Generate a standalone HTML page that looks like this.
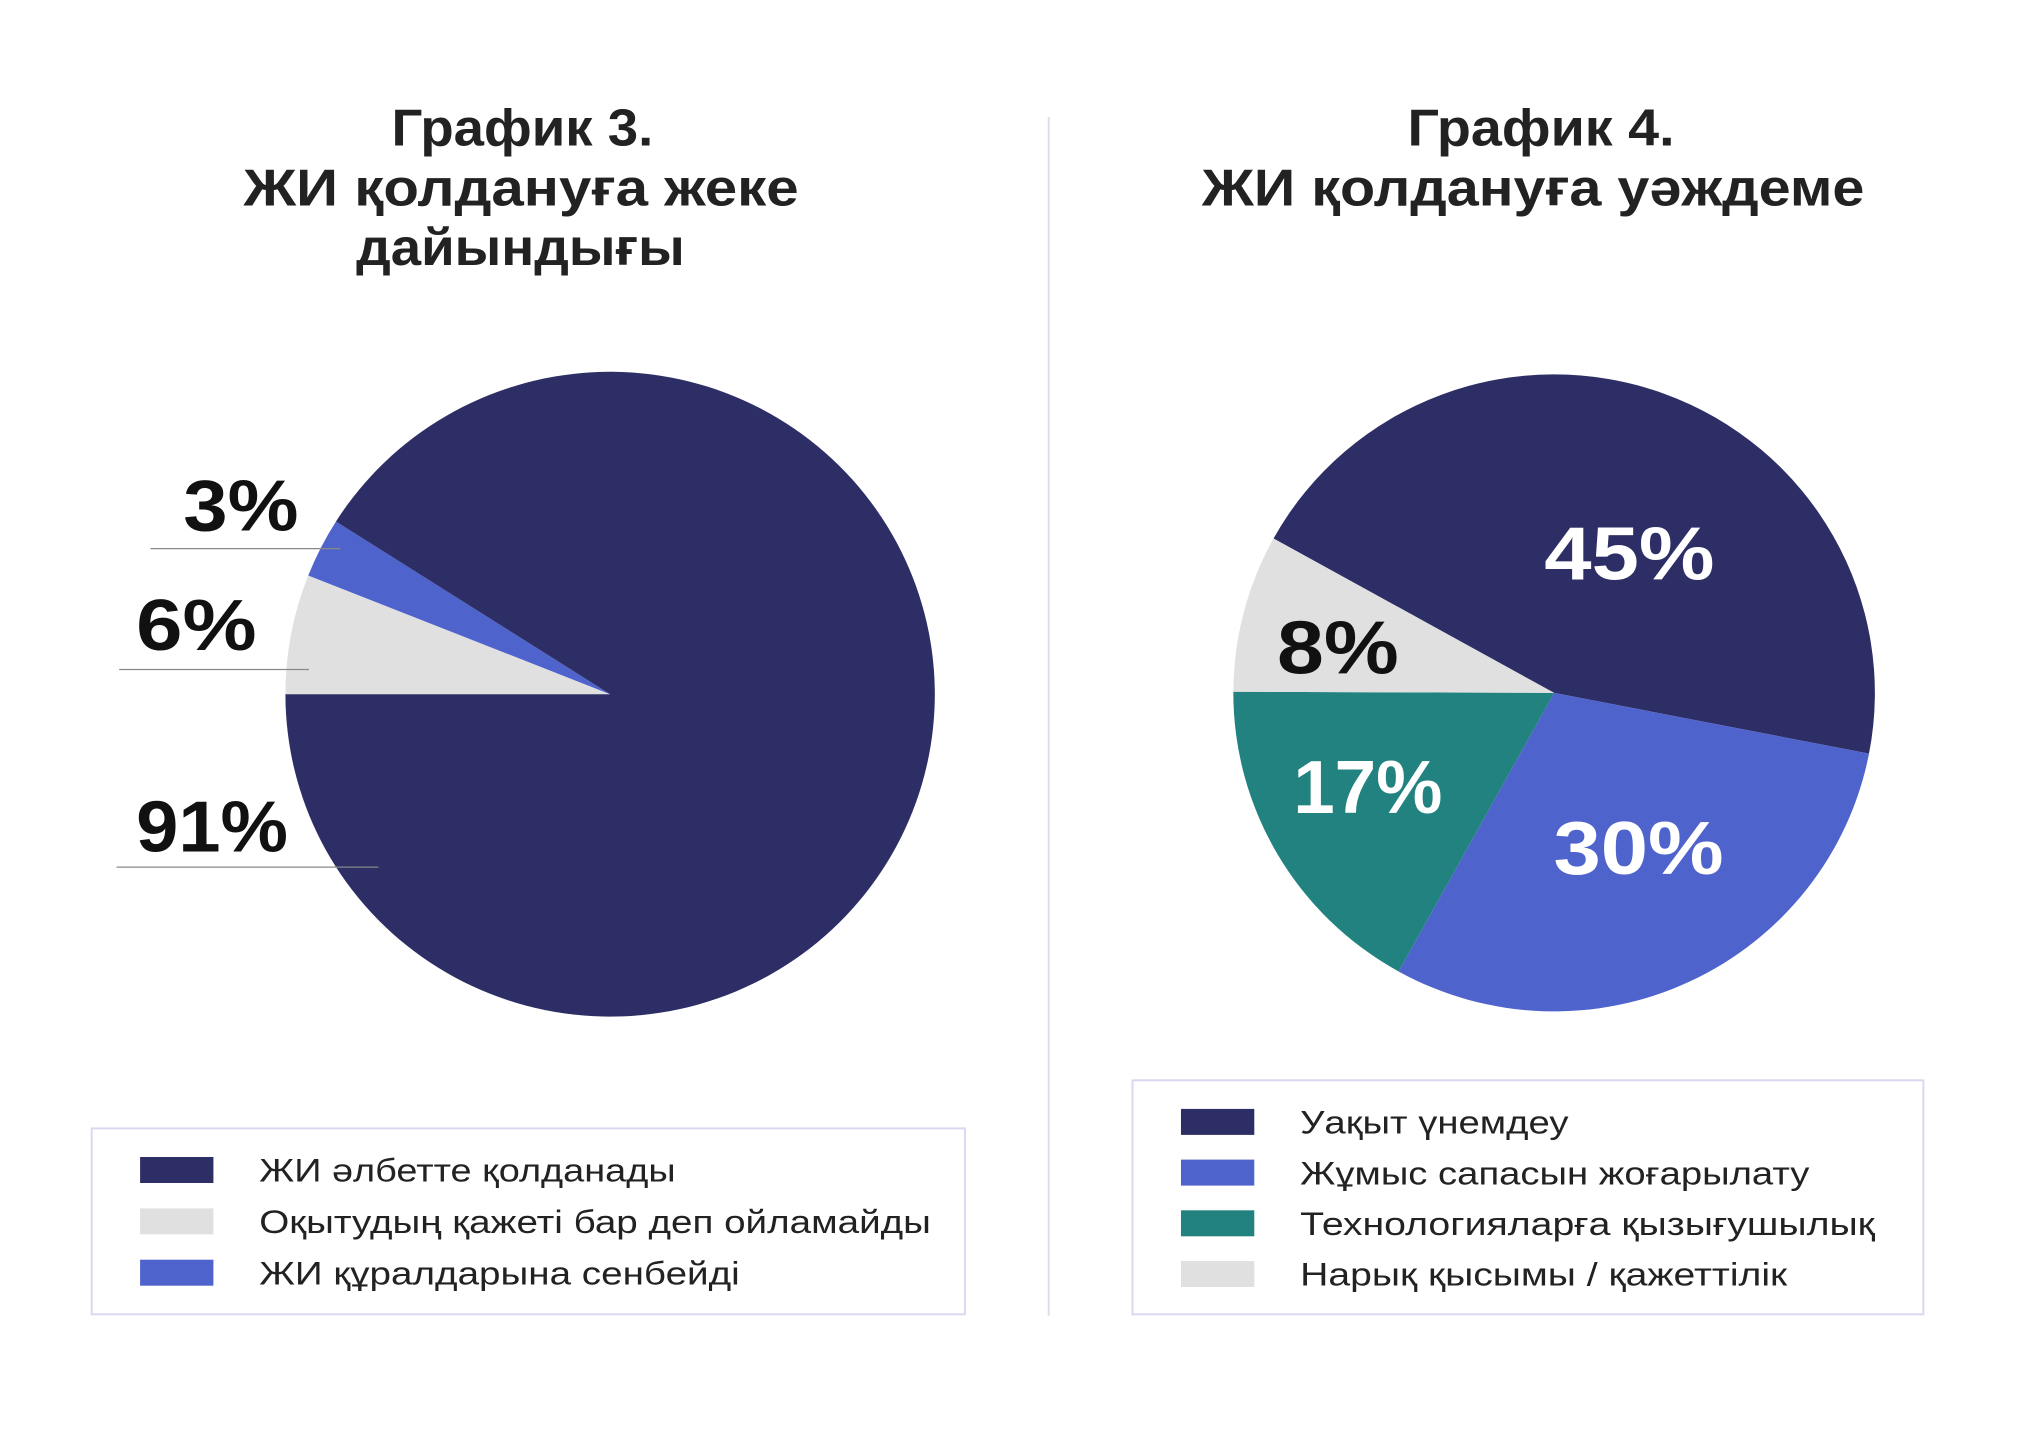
<!DOCTYPE html>
<html><head><meta charset="utf-8"><style>
html,body{margin:0;padding:0;background:#fff;}
svg{display:block;}
text{font-family:"Liberation Sans","DejaVu Sans",sans-serif;}
</style></head><body>
<svg id="root" width="2032" height="1430" viewBox="0 0 1552 1100" preserveAspectRatio="none" xmlns="http://www.w3.org/2000/svg">
<rect width="1552" height="1100" fill="#fff"/>
<g font-weight="bold" font-size="40" fill="#222">
<text x="299" y="112" textLength="200" lengthAdjust="spacingAndGlyphs">График 3.</text>
<text x="186" y="158" textLength="424" lengthAdjust="spacingAndGlyphs">ЖИ қолдануға жеке</text>
<text x="272" y="204" textLength="251" lengthAdjust="spacingAndGlyphs">дайындығы</text>
</g>
<g font-weight="bold" font-size="40" fill="#222">
<text x="1075" y="112" textLength="204" lengthAdjust="spacingAndGlyphs">График 4.</text>
<text x="918" y="158" textLength="506" lengthAdjust="spacingAndGlyphs">ЖИ қолдануға уәждеме</text>
</g>
<line x1="801" y1="90" x2="801" y2="1012" stroke="#dcdcee" stroke-width="1.5"/>
<g id="pie3"></g>
<g id="pie4"></g>
<rect x="70" y="868" width="667" height="143" fill="none" stroke="#d8d8f0" stroke-width="1.5"/>
<rect x="865" y="831" width="604" height="180" fill="none" stroke="#d8d8f0" stroke-width="1.5"/>
<g id="leg3"></g>
<g id="leg4"></g>
</svg>
<script>
const cats3 = ["ЖИ әлбетте қолданады", "Оқытудың қажеті бар деп ойламайды", "ЖИ құралдарына сенбейді"];
const vals3 = [91, 6, 3];
const labels3 = ["91%", "6%", "3%"];
const cats4 = ["Уақыт үнемдеу", "Жұмыс сапасын жоғарылату", "Технологияларға қызығушылық", "Нарық қысымы / қажеттілік"];
const vals4 = [45, 30, 17, 8];
const labels4 = ["45%", "30%", "17%", "8%"];

const NS = "http://www.w3.org/2000/svg";
function mk(tag, attrs, parent){const e=document.createElementNS(NS,tag);for(const k in attrs)e.setAttribute(k,attrs[k]);parent.appendChild(e);return e;}
function pt(cx,cy,r,deg){const a=deg*Math.PI/180;return [cx+r*Math.sin(a), cy-r*Math.cos(a)];}
function arc(cx,cy,r,a0,a1){const p0=pt(cx,cy,r,a0),p1=pt(cx,cy,r,a1);const large=(a1-a0)>180?1:0;
 return `M${cx},${cy} L${p0[0]},${p0[1]} A${r},${r} 0 ${large} 1 ${p1[0]},${p1[1]} Z`;}

const col3 = ["#2d2e65", "#e0e0e0", "#4f63cc"];
(function(){
 const g=document.getElementById('pie3');const cx=466,cy=534,r=248;
 const total=vals3.reduce((a,b)=>a+b,0);
 const order=[1,2,0];let a=270;
 order.forEach(i=>{const sw=vals3[i]/total*360;
  const p=mk('path',{d:arc(cx,cy,r,a,a+sw),fill:col3[i]},g);
  
  
  a+=sw;});
 const lab=[[104,655,89,289,667,116],[104,500,91,236,515,92],[140,408,115,260,422,88]];
 [0,1,2].forEach(i=>{const L=lab[i];
  const t=mk('text',{x:L[0],y:L[1],'font-size':56,'font-weight':'bold',fill:'#111',textLength:L[5],lengthAdjust:'spacingAndGlyphs'},g);t.textContent=labels3[i];
  
  
  const l=mk('line',{x1:L[2],y1:L[4],x2:L[3],y2:L[4],stroke:'#888','stroke-width':1},g);
  
  });
})();

const col4 = ["#2d2e65", "#4f63cc", "#218280", "#e0e0e0"];
(function(){
 const g=document.getElementById('pie4');const cx=1187,cy=533,r=245;
 const total=vals4.reduce((a,b)=>a+b,0);
 let a=299;const mids=[];
 vals4.forEach((v,i)=>{const sw=v/total*360;
  const p=mk('path',{d:arc(cx,cy,r,a,a+sw),fill:col4[i]},g);
  
  
  mids.push(a+sw/2);a+=sw;});
 const rr=[0.5,0.55,0.65,0.69];
 const dA=[8,-3.6,3.7,-2.3];
 const tl=[130,130,114,93];
 const fill=['#fff','#fff','#fff','#111'];
 mids.forEach((m,i)=>{const p=pt(cx,cy,r*rr[i],m+dA[i]);
  const t=mk('text',{x:p[0]-tl[i]/2,y:p[1]+21,'font-size':58,'font-weight':'bold',fill:fill[i],textLength:tl[i],lengthAdjust:'spacingAndGlyphs'},g);
  t.textContent=labels4[i];
  
  });
})();

(function(){
 const w3=[318,513,367], w4=[205,389,439,372];
 const g3=document.getElementById('leg3');
 cats3.forEach((c,i)=>{const y=890+i*39.5;
  const r=mk('rect',{x:107,y:y,width:56,height:20,fill:col3[i]},g3);
  
  
  const t=mk('text',{x:198,y:y+19,'font-size':25,fill:'#222',textLength:w3[i],lengthAdjust:'spacingAndGlyphs'},g3);t.textContent=c;
  
  });
 const g4=document.getElementById('leg4');
 cats4.forEach((c,i)=>{const y=853+i*39;
  const r=mk('rect',{x:902,y:y,width:56,height:20,fill:col4[i]},g4);
  
  
  const t=mk('text',{x:993,y:y+19,'font-size':25,fill:'#222',textLength:w4[i],lengthAdjust:'spacingAndGlyphs'},g4);t.textContent=c;
  
  });
})();
</script>
</body></html>
